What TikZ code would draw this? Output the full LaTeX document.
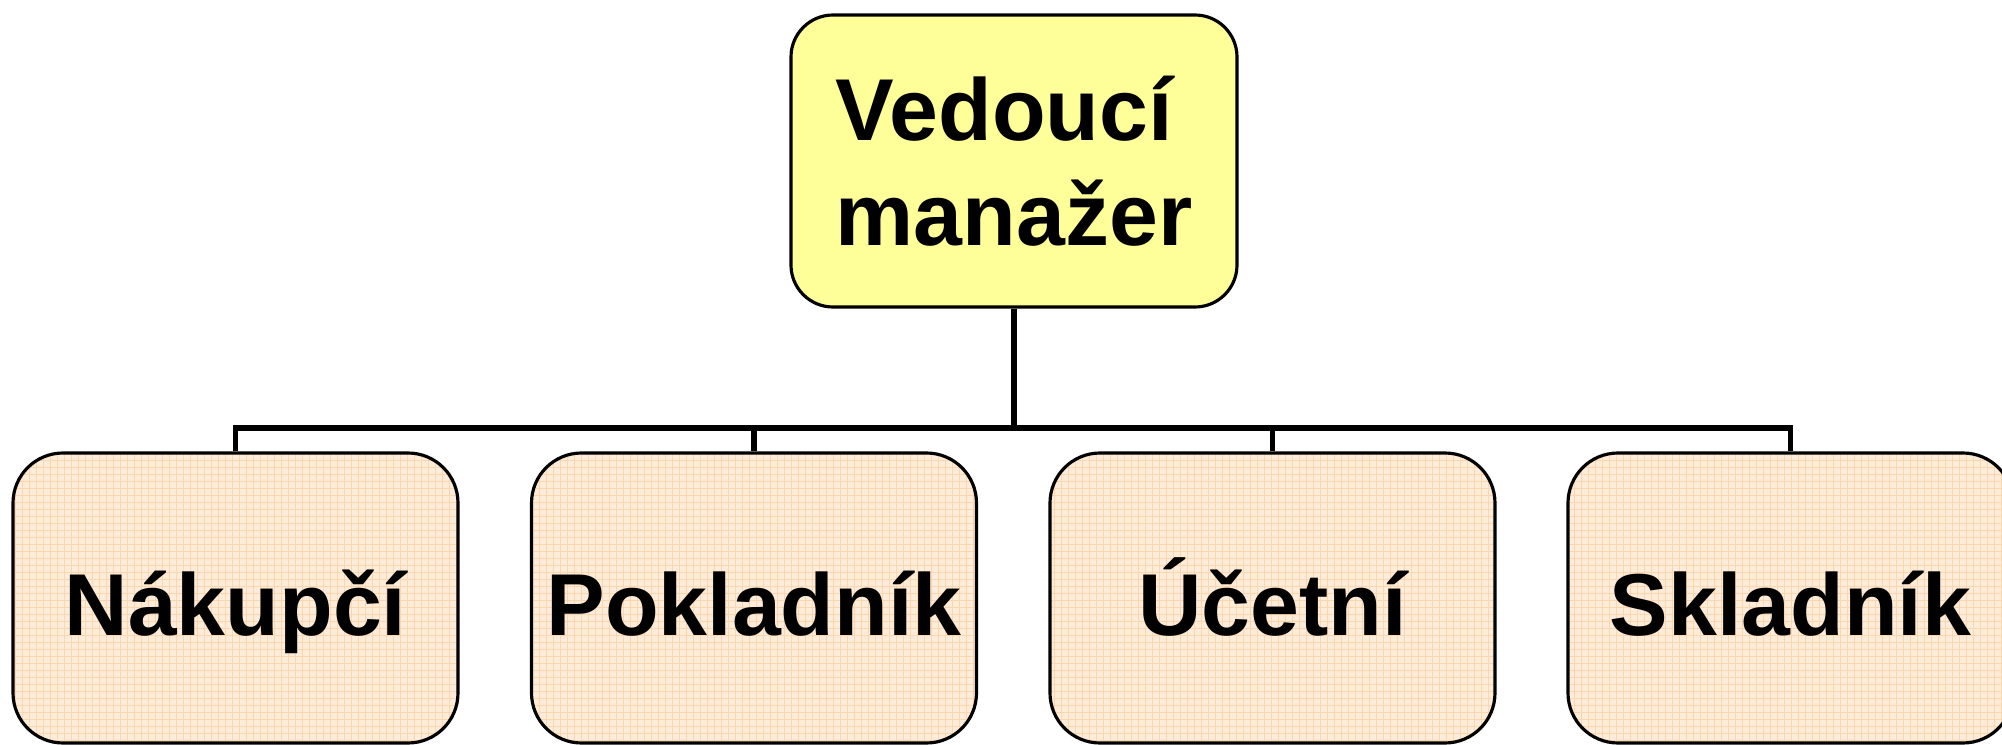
\documentclass[tikz,border=0pt]{standalone}
\usepackage{fontspec}
\setmainfont{Liberation Sans}
\usepackage{tikz}
\definecolor{boxyellow}{rgb}{1.0,1.0,0.6}
\definecolor{peach}{RGB}{254,236,218}
\definecolor{peachline}{RGB}{253,214,172}

\begin{document}
\begin{tikzpicture}[
  boss/.style={draw,line width=0.9pt,fill=boxyellow,rounded corners=0.42cm,
    minimum width=4.46cm,minimum height=2.92cm,align=left,
    font=\fontsize{25}{30}\selectfont\bfseries},
  worker/.style={draw,line width=0.9pt,fill=peach,rounded corners=0.5cm,
    minimum width=4.45cm,minimum height=2.9cm,
    text height=0.9cm,text depth=0.16cm,
    font=\fontsize{25}{30}\selectfont\bfseries,
    path picture={\draw[peachline,line width=0.25pt] (path picture bounding box.south west) grid[step=0.07] (path picture bounding box.north east);}},
  link/.style={line width=1.7pt}]
\useasboundingbox (0,0) rectangle (20.02,7.44);
\clip (0,0) rectangle (20.02,7.44);

\node[boss] (vedouci) at (10.14,5.83) {Vedoucí\\manažer};

\node[worker] (nakupci) at (2.355,1.46) {Nákupčí};
\node[worker] (pokladnik) at (7.54,1.46) {Pokladník};
\node[worker] (ucetni) at (12.725,1.46) {Účetní};
\node[worker] (skladnik) at (17.905,1.46) {Skladník};

\coordinate (fork) at (10.14,3.16);
\draw[link] (vedouci.south) -- (fork);
\foreach \k in {nakupci,pokladnik,ucetni,skladnik}
  \draw[link] (fork) -| (\k.north);
\end{tikzpicture}
\end{document}
